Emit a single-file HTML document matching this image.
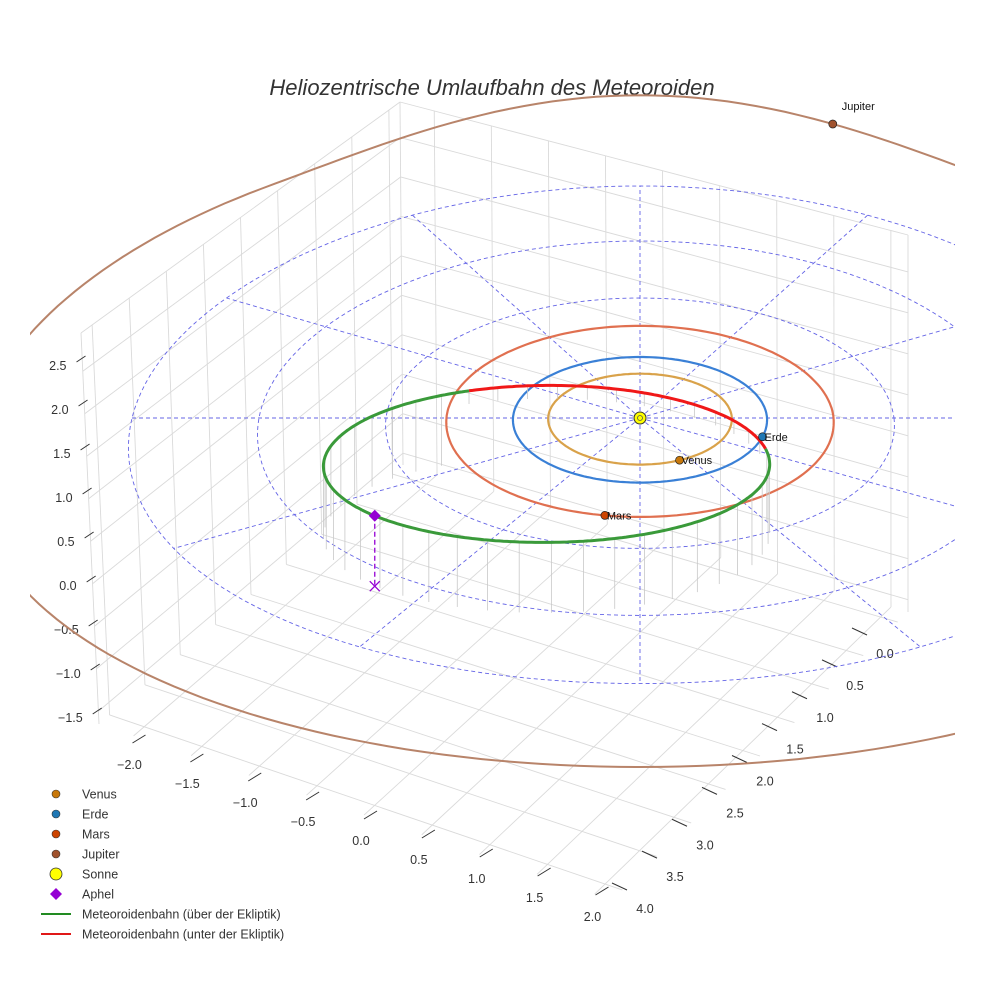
<!DOCTYPE html>
<html><head><meta charset="utf-8">
<style>
html,body{margin:0;padding:0;background:#fff;}
svg{display:block;font-family:"Liberation Sans",sans-serif;}
</style></head>
<body>
<svg id="chart" width="984" height="984" viewBox="0 0 984 984" xmlns="http://www.w3.org/2000/svg">
<defs><clipPath id="plotClip"><rect x="30" y="0" width="925" height="984"/></clipPath></defs>
<text x="492" y="95" text-anchor="middle" font-size="22" font-style="italic" fill="#333">Heliozentrische Umlaufbahn des Meteoroiden</text>
<g id="grid"></g>
<g id="ticks"></g>
<g id="plot" clip-path="url(#plotClip)"></g>
<g id="legend"></g>
</svg>
<script>
// ---- data ----
const xTicks = [-2.0,-1.5,-1.0,-0.5,0.0,0.5,1.0,1.5,2.0];
const yTicks = [0.0,0.5,1.0,1.5,2.0,2.5,3.0,3.5,4.0];
const zTicks = [-1.5,-1.0,-0.5,0.0,0.5,1.0,1.5,2.0,2.5];
const planetNames = ["Venus","Erde","Mars","Jupiter"];
const planetRadii = [0.723,1.0,1.524,5.2];
const planetAngles = [65,17,100,-70];
const refRadii = [2,3,4];
const refAngles = [0,30,60,90,120,150,180,210,240,270,300,330];
const meteorCenter = [-0.72,0.69];
const meteorAxes = [1.72,1.22];
const redRange = [248,350];
const aphelAngle = 138;
const aphelZ = 0.8;

const NS="http://www.w3.org/2000/svg";
function mk(tag,attrs,parent){const e=document.createElementNS(NS,tag);for(const k in attrs)e.setAttribute(k,attrs[k]);parent.appendChild(e);return e;}
function proj(X,Y,Z){const s=1+0.03*Y;const q=Y<0?1.0:0.6;let sy=418+(Y<0?62:64)*Y+q*Y*Y-88*Z;
 if(Y<-4)sy-=19*(-4-Y)*(-4-Y);return [640+127*s*X,sy];}
function ptsStr(a){return a.map(p=>p[0].toFixed(1)+","+p[1].toFixed(1)).join(" ");}

// ---- box grid ----
const grid=document.getElementById('grid');
const A=[99,724],At=[81,333],B=[612,900],C=[908,612],Ct=[908,235],D=[403,465],Dt=[400,102];
const XR=[-2.3,2.15],YR=[-0.15,4.15],ZR=[-1.65,2.95];
function lerp(p,q,t){return [p[0]+(q[0]-p[0])*t,p[1]+(q[1]-p[1])*t];}
function bil(p00,p10,p01,p11,u,v){return lerp(lerp(p00,p10,u),lerp(p01,p11,u),v);}
function gl(p,q,name){const l=mk('line',{x1:p[0],y1:p[1],x2:q[0],y2:q[1],stroke:'#dadada','stroke-width':0.9},grid);
}
const zn=z=>(z-ZR[0])/(ZR[1]-ZR[0]), xn=x=>(x-XR[0])/(XR[1]-XR[0]), yn=y=>(YR[1]-y)/(YR[1]-YR[0]);
yTicks.forEach(y=>{const u=yn(y);gl(bil(A,D,At,Dt,u,0),bil(A,D,At,Dt,u,1),'left-pane-gridline');gl(lerp(A,D,u),lerp(B,C,u),'floor-gridline');});
zTicks.forEach(z=>{const v=zn(z);gl(bil(A,D,At,Dt,0,v),bil(A,D,At,Dt,1,v),'left-pane-gridline');gl(bil(D,C,Dt,Ct,0,v),bil(D,C,Dt,Ct,1,v),'back-pane-gridline');});
xTicks.forEach(x=>{const u=xn(x);gl(bil(D,C,Dt,Ct,u,0),bil(D,C,Dt,Ct,u,1),'back-pane-gridline');gl(lerp(D,C,u),lerp(A,B,u),'floor-gridline');});
[[A,At],[D,Dt],[C,Ct],[At,Dt],[Dt,Ct]].forEach(e=>gl(e[0],e[1],'pane-edge'));

// ---- ticks & labels ----
const tk=document.getElementById('ticks');
function tline(x1,y1,x2,y2){const l=mk('line',{x1,y1,x2,y2,stroke:'#333','stroke-width':1},tk);
}
function tlabel(x,y,s,anchor,name){const t=mk('text',{x,y,'font-size':12.5,fill:'#333','text-anchor':anchor},tk);t.textContent=s;
}
const fmt=v=>(v<0?"\u2212":"")+Math.abs(v).toFixed(1);
zTicks.forEach(z=>{const y=586-88*z;const ax=A[0]+(At[0]-A[0])*((A[1]-y)/(A[1]-At[1]));
tline(ax-6,y-4,ax+3,y-10);tlabel(ax-16,y+4,fmt(z),'end','z-tick-label');});
xTicks.forEach(x=>{const lx=361+115.75*x,ly=841+38*x;tline(lx+3,ly-22,lx+16,ly-30);tlabel(lx,ly+4,fmt(x),'middle','x-tick-label');});
yTicks.forEach(y=>{const lx=885-60*y,ly=654+63.75*y;tline(lx-33,ly-26,lx-18,ly-19);tlabel(lx,ly+4,fmt(y),'middle','y-tick-label');});

// ---- plot ----
const plot=document.getElementById('plot');
const dash={stroke:'#6464e6','stroke-width':0.9,'stroke-dasharray':'4,3',fill:'none'};
function circlePts(r,n){const a=[];for(let i=0;i<=n;i++){const t=i/n*2*Math.PI;a.push(proj(r*Math.cos(t),r*Math.sin(t),0));}return a;}
refRadii.forEach(r=>{const e=mk('polyline',Object.assign({points:ptsStr(circlePts(r,180))},dash),plot);
});
refAngles.forEach(a=>{const t=a*Math.PI/180;const p=proj(4*Math.cos(t),4*Math.sin(t),0);const o=proj(0,0,0);
const e=mk('line',Object.assign({x1:o[0],y1:o[1],x2:p[0],y2:p[1]},dash),plot);
});

const orbitCol=['#d9a24a','#3a80d6','#e07050','#b8846a'];
const markCol=['#c8780a','#1f77b4','#cc4400','#a0522d'];
planetRadii.forEach((r,i)=>{const e=mk('polyline',{points:ptsStr(circlePts(r,240)),fill:'none',stroke:orbitCol[i],'stroke-width':i==3?2:2.2},plot);
});

function metPt(deg,z){const t=deg*Math.PI/180;return proj(meteorCenter[0]+meteorAxes[0]*Math.cos(t),meteorCenter[1]+meteorAxes[1]*Math.sin(t),z);}
for(let d=0;d<360;d+=8){const below=(d>=redRange[0]&&d<=redRange[1]);const p=metPt(d,0),q=metPt(d,below?-0.15:-aphelZ);
const l=mk('line',{x1:p[0],y1:p[1],x2:q[0],y2:q[1],stroke:'#c8c8c8','stroke-width':0.8},plot);
}
const green=[],red=[];
for(let d=redRange[1];d<=redRange[0]+360;d+=1)green.push(metPt(d,0));
for(let d=redRange[0];d<=redRange[1];d+=1)red.push(metPt(d,0));
const g=mk('polyline',{points:ptsStr(green),fill:'none',stroke:'#3a9a3a','stroke-width':3},plot);

const rd=mk('polyline',{points:ptsStr(red),fill:'none',stroke:'#f01818','stroke-width':3},plot);


const ap=metPt(aphelAngle,0),apf=metPt(aphelAngle,-aphelZ);
const al=mk('line',{x1:ap[0],y1:ap[1],x2:apf[0],y2:apf[1],stroke:'#9400d3','stroke-width':1.3,'stroke-dasharray':'5,3'},plot);

const ax=mk('path',{d:`M${apf[0]-5},${apf[1]-5}L${apf[0]+5},${apf[1]+5}M${apf[0]-5},${apf[1]+5}L${apf[0]+5},${apf[1]-5}`,stroke:'#9400d3','stroke-width':1.3},plot);

const ad=mk('polygon',{points:`${ap[0]},${ap[1]-6} ${ap[0]+6},${ap[1]} ${ap[0]},${ap[1]+6} ${ap[0]-6},${ap[1]}`,fill:'#9400d3'},plot);


const so=proj(0,0,0);
const sun=mk('circle',{cx:so[0],cy:so[1],r:6,fill:'#ffff00',stroke:'#333','stroke-width':1},plot);

mk('circle',{cx:so[0],cy:so[1],r:2.5,fill:'none',stroke:'#555','stroke-width':0.8},plot);

planetRadii.forEach((r,i)=>{const t=planetAngles[i]*Math.PI/180;const p=proj(r*Math.cos(t),r*Math.sin(t),0);
const c=mk('circle',{cx:p[0],cy:p[1],r:4,fill:markCol[i],stroke:'#222','stroke-width':0.7},plot);

const lbl=mk('text',{x:i==3?p[0]+9:p[0]+2,y:i==3?p[1]-14:p[1]+4,'font-size':11,fill:'#111'},plot);lbl.textContent=planetNames[i];
});

// ---- legend ----
const lg=document.getElementById('legend');
const legendItems=[["Venus","dot",markCol[0]],["Erde","dot",markCol[1]],["Mars","dot",markCol[2]],["Jupiter","dot",markCol[3]],
["Sonne","sun","#ffff00"],["Aphel","diamond","#9400d3"],["Meteoroidenbahn (über der Ekliptik)","line","#228b22"],["Meteoroidenbahn (unter der Ekliptik)","line","#e01818"]];
legendItems.forEach((it,i)=>{const y=794+20*i;const grp=mk('g',{},lg);

if(it[1]=='dot')mk('circle',{cx:56,cy:y,r:4,fill:it[2],stroke:'#333','stroke-width':0.6},grp);
else if(it[1]=='sun')mk('circle',{cx:56,cy:y,r:6,fill:it[2],stroke:'#333','stroke-width':0.8},grp);
else if(it[1]=='diamond')mk('polygon',{points:`56,${y-6} 62,${y} 56,${y+6} 50,${y}`,fill:it[2]},grp);
else mk('line',{x1:41,y1:y,x2:71,y2:y,stroke:it[2],'stroke-width':2},grp);
const t=mk('text',{x:82,y:y+4.5,'font-size':12.5,fill:'#333'},grp);t.textContent=it[0];});
</script>
</body></html>
